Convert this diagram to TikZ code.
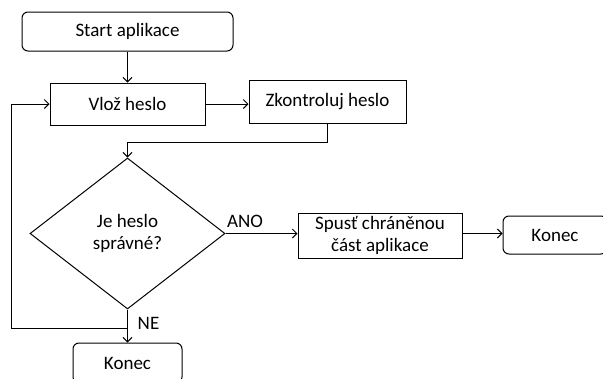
\documentclass[tikz,border=0pt]{standalone}
\usepackage{fontspec}
\setmainfont{Carlito}
\usetikzlibrary{arrows.meta,shapes.geometric,calc}
\begin{document}
\begin{tikzpicture}[x=1pt,y=-1pt,
  every node/.style={font=\fontsize{19}{22}\selectfont, inner sep=0pt, align=center},
  box/.style={draw, line width=1pt, rectangle},
  term/.style={box, rounded corners=6pt},
  dec/.style={draw, line width=1pt, diamond, aspect=1.3},
  flow/.style={draw, line width=1pt, -{Straight Barb[length=4.5pt,width=9pt,line width=1pt]}},
  lbl/.style={font=\fontsize{19}{22}\selectfont}]
  \useasboundingbox (0,0) rectangle (603,378);
  \clip (0,0) rectangle (603,378);
  \fill[white] (0,0) rectangle (603,378);

  % main column
  \node[term, minimum width=211pt, minimum height=39pt] (start) at (127.5,31.5) {Start aplikace};
  \node[box, minimum width=155pt, minimum height=42pt] (vloz) at (127.5,104) {Vlož heslo};
  \node[box, minimum width=157pt, minimum height=43pt] (zk) at (327.5,101.5) {Zkontroluj heslo};
  \node[dec, minimum width=195pt, minimum height=151pt] (dia) at (127.5,233.5) {Je heslo\\správné?};
  \node[box, minimum width=164pt, minimum height=45pt] (spust) at (380,235.5) {Spusť chráněnou\\část aplikace};
  \node[term, minimum width=104pt, minimum height=38pt] (konA) at (555,235) {Konec};
  \node[term, minimum width=109pt, minimum height=40pt] (konB) at (127.5,363) {Konec};

  % branch labels
  \node[lbl] (ano) at (245,221) {ANO};
  \node[lbl] (ne) at (148.5,323) {NE};

  % helper points for the bends
  \coordinate (bend) at (0,142);
  \coordinate (join) at (127.5,328);
  \coordinate (corner) at (11,328);

  % connectors
  \draw[flow] (start.south) -- (vloz.north);
  \draw[flow] (vloz.east) -- (vloz.east -| zk.west);
  \draw[flow] (zk.south) -- (zk.south |- bend) -| (dia.north);
  \draw[flow] (dia.east) -- (dia.east -| spust.west);
  \draw[flow] (dia.east -| spust.east) -- (dia.east -| konA.west);
  \draw[flow] (dia.south) -- (konB.north);
  \draw[flow] (join) -- (corner) |- (vloz.west);
\end{tikzpicture}
\end{document}
